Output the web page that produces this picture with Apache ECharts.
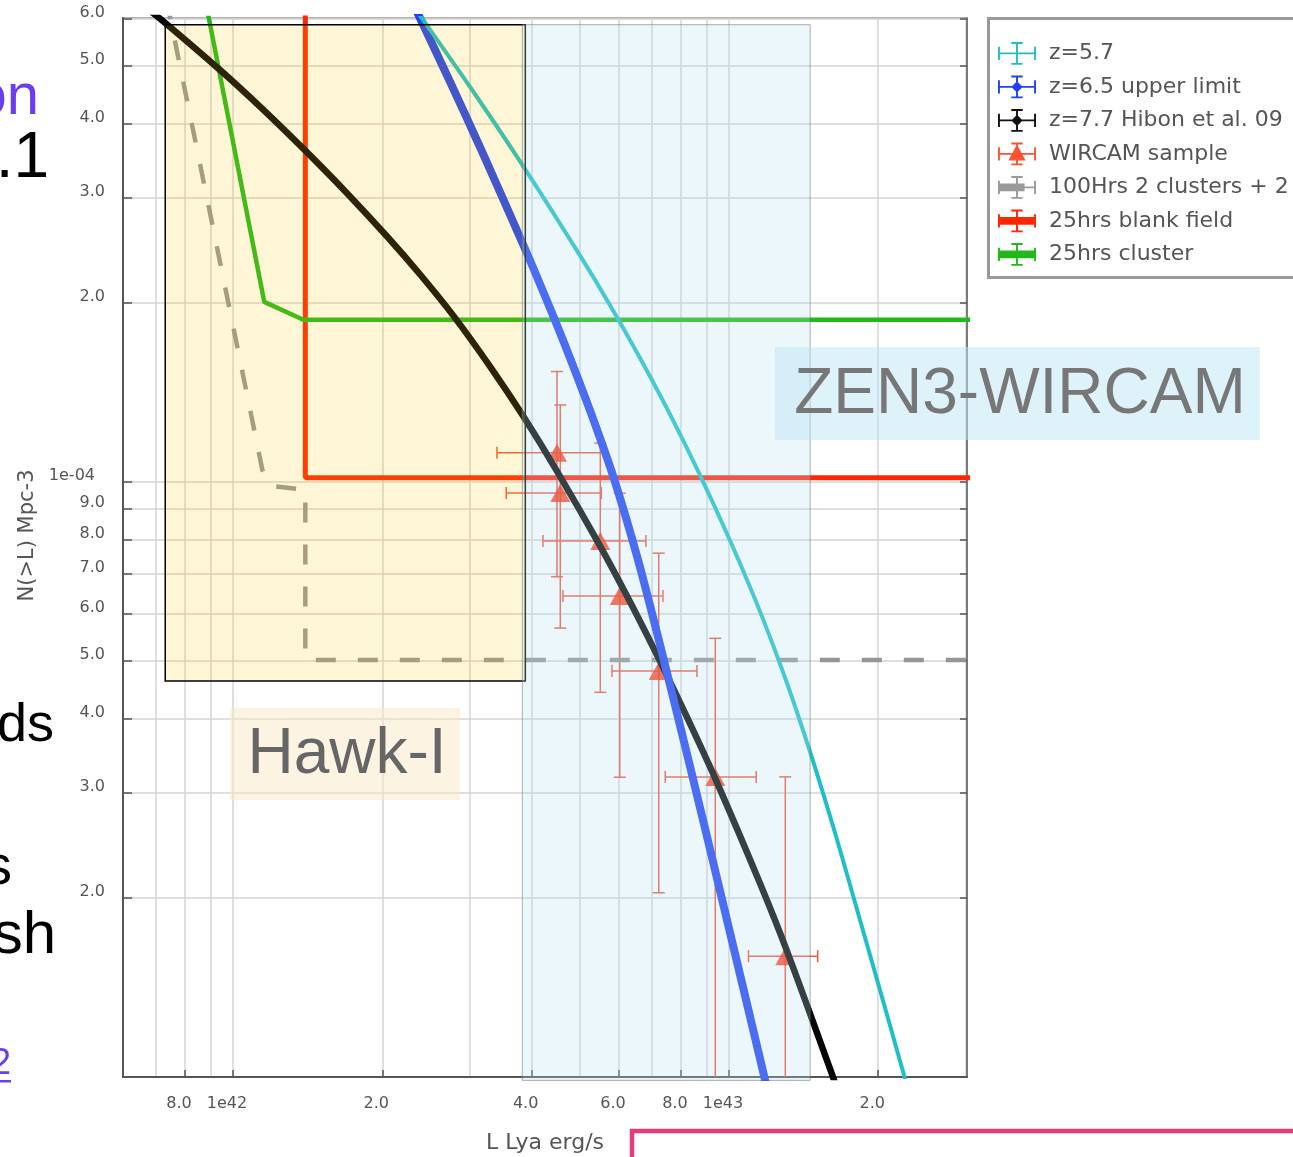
<!DOCTYPE html>
<html><head><meta charset="utf-8">
<script src="https://cdn.jsdelivr.net/npm/echarts@6/dist/echarts.min.js"></script>
<style>html,body{margin:0;padding:0;background:#fff}#main{width:1293px;height:1157px}</style>
</head><body><div id="main"></div>
<script>
// ---------------- data (L in erg/s, N in Mpc^-3) ----------------
const z57L = [2.124e42, 2.408e42, 3.009e42, 3.849e42, 5.014e42, 5.765e42, 6.625e42, 7.616e42, 8.752e42, 1.006e43, 1.156e43, 1.299e43, 1.458e43, 1.638e43, 1.840e43, 2.047e43, 2.267e43, 2.374e43];
const z57N = [6.953e-4, 6.003e-4, 4.605e-4, 3.391e-4, 2.398e-4, 1.978e-4, 1.612e-4, 1.296e-4, 1.025e-4, 7.955e-5, 6.048e-5, 4.677e-5, 3.516e-5, 2.566e-5, 1.829e-5, 1.339e-5, 9.90e-6, 8.61e-6];

const z65L = [2.226e42, 2.386e42, 2.742e42, 3.152e42, 3.885e42, 4.423e42, 4.831e42, 5.302e42, 5.845e42, 6.533e42, 7.269e42, 8.356e42, 9.605e42, 1.173e43, 1.211e43];
const z65N = [6.776e-4, 6.003e-4, 4.695e-4, 3.644e-4, 2.458e-4, 1.900e-4, 1.580e-4, 1.287e-4, 1.021e-4, 7.475e-5, 5.306e-5, 3.314e-5, 2.047e-5, 1.017e-5, 9.05e-6];

const z77L = [0.6503e42, 0.7372e42, 0.9428e42, 1.146e42, 1.399e42, 1.692e42, 2.047e42, 2.386e42, 2.781e42, 3.302e42, 3.849e42, 4.506e42, 5.503e42, 6.324e42, 7.269e42, 8.279e42, 9.472e42, 1.156e43, 1.311e43, 1.616e43, 1.716e43];
const z77N = [6.381e-4, 5.866e-4, 4.918e-4, 4.236e-4, 3.603e-4, 3.065e-4, 2.582e-4, 2.229e-4, 1.903e-4, 1.561e-4, 1.289e-4, 1.041e-4, 7.794e-5, 6.278e-5, 4.989e-5, 3.982e-5, 3.118e-5, 2.112e-5, 1.623e-5, 1.007e-5, 8.70e-6];

const wirL   = [4.500e42, 4.570e42, 5.503e42, 6.024e42, 7.218e42, 9.385e42, 1.299e43];
const wirN   = [1.119e-4, 9.58e-5, 7.96e-5, 6.43e-5, 4.81e-5, 3.194e-5, 1.596e-5];
const wirLlo = [3.406e42, 3.556e42, 4.217e42, 4.627e42, 5.810e42, 7.440e42, 1.095e43];
const wirLhi = [5.588e42, 5.529e42, 6.800e42, 7.361e42, 8.620e42, 1.135e43, 1.510e43];
const wirNlo = [6.93e-5, 5.68e-5, 4.43e-5, 3.19e-5, 2.04e-5, 5.0e-6, 5.0e-6];
const wirNhi = [1.533e-4, 1.347e-4, 1.162e-4, 9.57e-5, 7.59e-5, 5.46e-5, 3.194e-5];

const h100L = [0.734e42, 1.020e42, 1.146e42, 1.189e42, 1.399e42, 1.399e42, 4.0e43];
const h100N = [6.47e-4, 1.687e-4, 1.047e-4, 9.85e-5, 9.70e-5, 5.02e-5, 5.02e-5];

const bf25L = [1.399e42, 1.399e42, 4.0e43];
const bf25N = [6.72e-4, 1.016e-4, 1.016e-4];

const cl25L = [0.871e42, 1.156e42, 1.386e42, 4.0e43];
const cl25N = [6.72e-4, 2.007e-4, 1.873e-4, 1.873e-4];

const xTickValues = [8e41, 1e42, 2e42, 4e42, 6e42, 8e42, 1e43, 2e43];
const xGridValues = [7e41, 8e41, 9e41, 1e42, 2e42, 3e42, 4e42, 5e42, 6e42, 7e42, 8e42, 9e42, 1e43, 2e43, 3e43];
const yTickValues = [2e-5, 3e-5, 4e-5, 5e-5, 6e-5, 7e-5, 8e-5, 9e-5, 1e-4, 2e-4, 3e-4, 4e-4, 5e-4, 6e-4];
const xRange = [6e41, 3.02e43];
const yRange = [1e-5, 6.02e-4];

const legendNames = ['z=5.7', 'z=6.5 upper limit', 'z=7.7 Hibon et al. 09', 'WIRCAM sample', '100Hrs 2 clusters + 2', '25hrs blank field', '25hrs cluster'];

// ---------------- helpers ----------------
const lg = Math.log10;
const pts = (Ls, Ns) => Ls.map((L, i) => [lg(L), lg(Ns[i])]);
function fmtLog(v, expText) {
  const e = Math.floor(v + 1e-9);
  const m = Math.pow(10, v - e);
  if (Math.abs(m - 1) < 1e-6) return expText(e);
  return m.toFixed(1);
}
const FONT = 'DejaVu Sans';
const C = {
  cyan: '#1fbfc5', blue: '#2142f2', black: '#050505', red: '#ff2600',
  green: '#22b81a', gray: '#959595', tri: '#ff2400', err: '#f0583c'
};
const cross = 'M0 11H40V13H0Z M0 5H2V19H0Z M38 5H40V19H38Z M19 0H21V24H19Z M14 0H26V2H14Z M14 22H26V24H14Z';
const icons = {
  plain: 'path://' + cross,
  diamond: 'path://' + cross + ' M20 6L26 12L20 18L14 12Z',
  tri: 'path://' + cross + ' M20 2L29 19L11 19Z',
  half: 'path://' + cross + ' M0 8H28V16H0Z',
  bar: 'path://' + cross + ' M0 8H40V16H0Z'
};

const chart = echarts.init(document.getElementById('main'), null, {renderer: 'canvas'});

const axisLabelBase = {fontFamily: FONT, fontSize: 16, color: '#555'};
const curve = {symbol: 'none', clip: true, smooth: 0.3};

const option = {
  animation: false,
  backgroundColor: '#fff',
  grid: {left: 123, right: 326, top: 18, bottom: 80, show: true, borderColor: '#999', borderWidth: 1.5, containLabel: false, outerBoundsMode: 'none'},
  legend: {
    orient: 'vertical', left: 998, top: 42, padding: 0, itemWidth: 38, itemHeight: 24, itemGap: 10.7,
    selectedMode: false,
    textStyle: {fontFamily: FONT, fontSize: 22, color: '#555', padding: [0, 0, 0, 8]},
    data: [
      {name: legendNames[0], icon: icons.plain, itemStyle: {color: C.cyan, borderWidth: 0}},
      {name: legendNames[1], icon: icons.diamond, itemStyle: {color: C.blue, borderWidth: 0}},
      {name: legendNames[2], icon: icons.diamond, itemStyle: {color: '#111', borderWidth: 0}},
      {name: legendNames[3], icon: icons.tri, itemStyle: {color: C.red, borderWidth: 0}},
      {name: legendNames[4], icon: icons.half, itemStyle: {color: '#9a9a9a', borderWidth: 0}},
      {name: legendNames[5], icon: icons.bar, itemStyle: {color: C.red, borderWidth: 0}},
      {name: legendNames[6], icon: icons.bar, itemStyle: {color: C.green, borderWidth: 0}}
    ]
  },
  xAxis: [
    {
      type: 'value', min: lg(xRange[0]), max: lg(xRange[1]), position: 'bottom',
      name: 'L Lya erg/s', nameLocation: 'middle', nameGap: 55,
      nameTextStyle: {fontFamily: FONT, fontSize: 22, color: '#555'},
      axisLine: {show: true, onZero: false, lineStyle: {color: '#555', width: 2}},
      axisTick: {show: true, inside: true, length: 7, customValues: xTickValues.map(lg), lineStyle: {color: '#555', width: 1.5}},
      axisLabel: Object.assign({show: true, customValues: xTickValues.map(lg), margin: 19, padding: [0, 12, 0, 0],
        formatter: v => fmtLog(v, e => '1e' + e)}, axisLabelBase),
      splitLine: {show: false}
    },
    {
      type: 'value', min: lg(xRange[0]), max: lg(xRange[1]), position: 'top',
      axisLine: {show: false}, axisLabel: {show: false},
      axisTick: {show: false, customValues: xGridValues.map(lg)},
      splitLine: {show: true, lineStyle: {color: '#d4d4d4', width: 1.5}}
    }
  ],
  yAxis: [
    {
      type: 'value', min: lg(yRange[0]), max: lg(yRange[1]), position: 'left',
      name: 'N(>L) Mpc-3', nameLocation: 'middle', nameRotate: 90, nameGap: 85,
      nameTextStyle: {fontFamily: FONT, fontSize: 21, color: '#555', padding: [0, 0, 0, 24]},
      axisLine: {show: true, onZero: false, lineStyle: {color: '#555', width: 2}},
      axisTick: {show: true, inside: true, length: 9, customValues: yTickValues.map(lg), lineStyle: {color: '#555', width: 1.5}},
      axisLabel: Object.assign({show: true, customValues: yTickValues.map(lg), margin: 18, padding: [0, 0, 12, 0],
        formatter: v => {
          const s = fmtLog(v, e => '1e-' + String(-e).padStart(2, '0'));
          return s.indexOf('e') >= 0 ? '{e|' + s + '}' : s;
        },
        rich: {e: {fontFamily: FONT, fontSize: 16, color: '#555', padding: [0, 10, 0, 0]}}}, axisLabelBase),
      splitLine: {show: true, lineStyle: {color: '#d4d4d4', width: 1.5}}
    },
    {
      type: 'value', min: lg(yRange[0]), max: lg(yRange[1]), position: 'right',
      axisLine: {show: true, onZero: false, lineStyle: {color: '#666', width: 1.5}},
      axisTick: {show: true, inside: true, length: 7, customValues: yTickValues.map(lg), lineStyle: {color: '#555', width: 1.5}},
      axisLabel: {show: false}, splitLine: {show: false}
    }
  ],
  series: [
    {name: legendNames[5], type: 'line', data: pts(bf25L, bf25N), symbol: 'none', clip: true,
      lineStyle: {color: C.red, width: 5}, itemStyle: {color: C.red}},
    {name: legendNames[6], type: 'line', data: pts(cl25L, cl25N), symbol: 'none', clip: true,
      lineStyle: {color: C.green, width: 4.5}, itemStyle: {color: C.green}},
    {name: legendNames[4], type: 'line', data: pts(h100L, h100N), symbol: 'none', clip: true,
      lineStyle: {color: C.gray, width: 4.5, type: [20, 22]}, itemStyle: {color: C.gray}},
    Object.assign({name: legendNames[2], type: 'line', data: pts(z77L, z77N),
      lineStyle: {color: C.black, width: 6.5}, itemStyle: {color: C.black}}, curve),
    Object.assign({name: legendNames[1], type: 'line', data: pts(z65L, z65N),
      lineStyle: {color: C.blue, width: 8}, itemStyle: {color: C.blue}}, curve),
    Object.assign({name: legendNames[0], type: 'line', data: pts(z57L, z57N),
      lineStyle: {color: C.cyan, width: 4}, itemStyle: {color: C.cyan}}, curve),
    {name: 'WIRCAM errors', type: 'custom', clip: true,
      data: wirL.map((L, i) => [lg(L), lg(wirN[i]), lg(wirLlo[i]), lg(wirLhi[i]), lg(wirNlo[i]), lg(wirNhi[i])]),
      encode: {x: [0, 2, 3], y: [1, 4, 5]},
      renderItem: (params, api) => {
        const lo = api.coord([api.value(2), api.value(1)]);
        const hi = api.coord([api.value(3), api.value(1)]);
        const b = api.coord([api.value(0), api.value(4)]);
        const t = api.coord([api.value(0), api.value(5)]);
        const cap = 6;
        const st = {stroke: C.err, lineWidth: 1.5, fill: null};
        const ln = (x1, y1, x2, y2) => ({type: 'line', shape: {x1, y1, x2, y2}, style: st});
        return {type: 'group', children: [
          ln(lo[0], lo[1], hi[0], hi[1]),
          ln(lo[0], lo[1] - cap, lo[0], lo[1] + cap),
          ln(hi[0], hi[1] - cap, hi[0], hi[1] + cap),
          ln(b[0], b[1], t[0], t[1]),
          ln(t[0] - cap, t[1], t[0] + cap, t[1]),
          ln(b[0] - cap, b[1], b[0] + cap, b[1])
        ]};
      }},
    {name: legendNames[3], type: 'scatter', data: pts(wirL, wirN), symbol: 'triangle', symbolSize: [20, 18],
      itemStyle: {color: C.tri}}
  ]
};
chart.setOption(option);

// ---------------- annotations (extents in data units, placed via the axes) ----------------
const px = (L, N) => chart.convertToPixel({xAxisIndex: 0, yAxisIndex: 0}, [lg(L), lg(N)]);
function boxFromData(L0, L1, N0, N1) {
  const a = px(L0, N1), b = px(L1, N0);
  return {x: a[0], y: a[1], width: b[0] - a[0], height: b[1] - a[1]};
}
const hawkBox = boxFromData(0.730e42, 3.885e42, 4.627e-5, 5.866e-4);
const zenBox = boxFromData(3.831e42, 1.458e43, 0.987e-5, 5.866e-4);
const SANS = '"Liberation Sans", Arial, sans-serif';
const slideText = (text, x, baseline, size, color) => ({
  type: 'text', z: 80, style: {text, x, y: baseline - 0.347 * size, align: 'right', verticalAlign: 'middle',
    font: size + 'px ' + SANS, fill: color}
});
chart.setOption({
  graphic: [
    {type: 'rect', z: 50, shape: hawkBox, style: {fill: 'rgba(249,196,2,0.16)', stroke: '#000', lineWidth: 1.5}},
    {type: 'rect', z: 51, shape: zenBox, style: {fill: 'rgba(185,225,240,0.27)', stroke: 'rgba(110,110,110,0.55)', lineWidth: 1}},
    {type: 'rect', z: 60, shape: {x: 775, y: 347, width: 485, height: 93}, style: {fill: 'rgba(190,230,246,0.5)'}},
    {type: 'text', z: 61, style: {text: 'ZEN3-WIRCAM', x: 1020, y: 395, align: 'center', verticalAlign: 'middle',
      font: '64px ' + SANS, fill: '#777'}},
    {type: 'rect', z: 60, shape: {x: 230, y: 708, width: 230, height: 92}, style: {fill: 'rgba(250,232,200,0.5)'}},
    {type: 'text', z: 61, style: {text: 'Hawk-I', x: 347, y: 755, align: 'center', verticalAlign: 'middle',
      font: '64px ' + SANS, fill: '#666'}},
    {type: 'rect', z: 1, shape: {x: 988.5, y: 18.5, width: 400, height: 259}, style: {fill: 'none', stroke: '#999', lineWidth: 3}},
    {type: 'rect', z: 80, shape: {x: 632, y: 1131, width: 800, height: 100}, style: {fill: 'none', stroke: '#e53d7b', lineWidth: 4.5}},
    slideText('on', 39, 118, 58, '#6b3cf0'),
    slideText('.1', 49, 182, 64, '#000'),
    slideText('ds', 54, 745, 54, '#000'),
    slideText('s', 12, 888, 56, '#000'),
    slideText('sh', 56, 957, 60, '#000'),
    slideText('2', 11, 1077, 36, '#6b3cf0'),
    {type: 'rect', z: 80, shape: {x: 0, y: 1080, width: 11, height: 2.5}, style: {fill: '#6b3cf0'}}
  ]
});
</script>
</body></html>
